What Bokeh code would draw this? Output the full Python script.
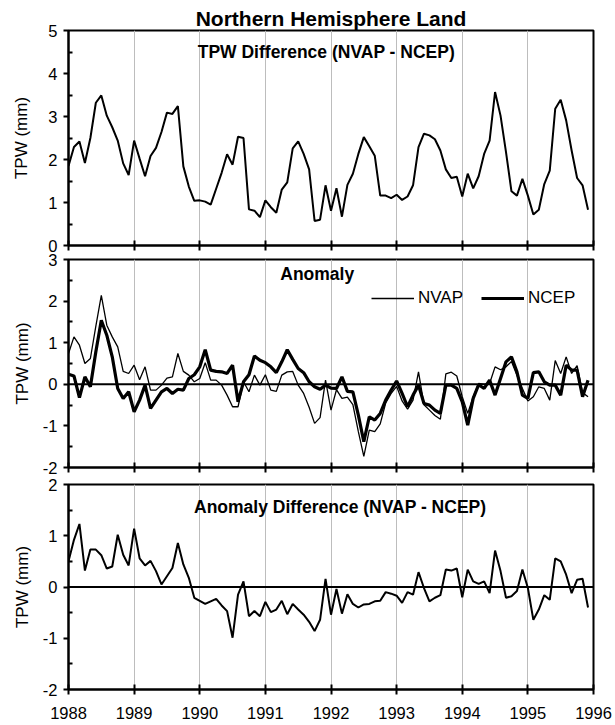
from bokeh.plotting import figure
from bokeh.layouts import column
from bokeh.models import Range1d, Span, Label, Legend, LegendItem, FixedTicker, Title
from bokeh.embed import file_html
from bokeh.resources import INLINE

FONT = "Liberation Sans"

years = [1988, 1989, 1990, 1991, 1992, 1993, 1994, 1995, 1996]
months = [1988 + m / 12 for m in range(96)]

tpw_diff = [
    1.85, 2.29, 2.42, 1.92, 2.50, 3.32, 3.49, 3.02, 2.75, 2.44, 1.91, 1.64,
    2.44, 2.02, 1.61, 2.08, 2.27, 2.64, 3.09, 3.06, 3.24, 1.84, 1.37, 1.04,
    1.05, 1.02, 0.95, 1.32, 1.69, 2.12, 1.88, 2.53, 2.50, 0.84, 0.81, 0.66,
    1.05, 0.89, 0.76, 1.30, 1.47, 2.26, 2.42, 2.13, 1.77, 0.57, 0.60, 1.40,
    0.81, 1.33, 0.67, 1.41, 1.67, 2.13, 2.52, 2.31, 2.09, 1.16, 1.16, 1.10,
    1.18, 1.06, 1.14, 1.40, 2.29, 2.60, 2.56, 2.47, 2.21, 1.77, 1.57, 1.60,
    1.14, 1.67, 1.33, 1.61, 2.13, 2.44, 3.57, 3.02, 2.17, 1.26, 1.16, 1.55,
    1.16, 0.72, 0.83, 1.43, 1.74, 3.18, 3.39, 2.91, 2.21, 1.57, 1.40, 0.83,
]

nvap_anom = [
    0.74, 1.14, 0.94, 0.50, 0.62, 1.40, 2.14, 1.42, 1.14, 0.90, 0.31, 0.26,
    0.46, 0.11, 0.42, -0.14, -0.14, -0.02, 0.15, 0.18, 0.74, 0.31, 0.22, 0.06,
    0.14, 0.52, 0.10, 0.10, -0.02, -0.26, -0.54, -0.54, 0.06, -0.18, 0.22, -0.02,
    0.23, -0.14, -0.17, 0.22, 0.30, 0.31, -0.02, -0.22, -0.55, -0.94, -0.80, 0.10,
    -0.62, -0.13, -0.34, -0.31, -0.49, -1.14, -1.73, -1.10, -1.14, -0.95, -0.45, -0.22,
    -0.05, -0.40, -0.60, -0.38, 0.30, -0.49, -0.62, -0.75, -0.84, 0.25, 0.29, 0.20,
    -0.30, -0.70, -0.30, 0.02, 0.00, 0.02, 0.42, 0.35, 0.42, 0.55, 0.22, -0.10,
    -0.40, -0.30, -0.06, -0.10, -0.38, 0.57, 0.26, 0.66, 0.26, 0.45, -0.20, -0.30,
]

ncep_anom = [
    0.24, 0.20, -0.32, 0.18, -0.06, 0.78, 1.54, 1.18, 0.66, -0.10, -0.34, -0.18,
    -0.66, -0.38, -0.02, -0.58, -0.38, -0.18, -0.10, -0.22, -0.12, -0.14, 0.14, 0.23,
    0.42, 0.83, 0.34, 0.31, 0.30, 0.26, 0.46, -0.42, 0.06, 0.23, 0.68, 0.58,
    0.52, 0.42, 0.28, 0.54, 0.83, 0.60, 0.38, 0.28, 0.06, -0.06, -0.12, -0.02,
    -0.09, -0.10, 0.18, -0.17, -0.18, -0.74, -1.38, -0.78, -0.86, -0.70, -0.38, -0.14,
    0.08, -0.22, -0.54, -0.26, -0.02, -0.46, -0.50, -0.62, -0.70, -0.02, -0.02, -0.10,
    -0.42, -0.98, -0.34, -0.01, -0.10, 0.10, -0.26, 0.14, 0.54, 0.66, 0.30, -0.26,
    -0.34, 0.28, 0.30, 0.06, -0.02, -0.02, -0.26, 0.46, 0.34, 0.34, -0.30, 0.10,
]

anom_diff = [
    0.50, 0.92, 1.23, 0.32, 0.73, 0.73, 0.62, 0.36, 0.40, 1.02, 0.63, 0.42,
    1.14, 0.56, 0.42, 0.51, 0.31, 0.05, 0.21, 0.37, 0.86, 0.44, 0.18, -0.21,
    -0.27, -0.33, -0.28, -0.23, -0.36, -0.47, -0.99, -0.15, 0.11, -0.57, -0.47, -0.57,
    -0.29, -0.49, -0.44, -0.27, -0.53, -0.33, -0.44, -0.54, -0.68, -0.86, -0.64, 0.16,
    -0.54, -0.04, -0.52, -0.14, -0.33, -0.40, -0.34, -0.33, -0.28, -0.27, -0.10, -0.13,
    -0.17, -0.31, -0.10, -0.15, 0.29, -0.02, -0.28, -0.21, -0.16, 0.34, 0.32, 0.36,
    -0.20, 0.34, 0.11, 0.06, 0.11, -0.12, 0.71, 0.31, -0.21, -0.18, -0.08, 0.34,
    -0.02, -0.64, -0.44, -0.16, -0.25, 0.56, 0.50, 0.24, -0.12, 0.14, 0.16, -0.40,
]

main_title = "Northern Hemisphere Land"
sub_titles = ["TPW Difference (NVAP - NCEP)", "Anomaly", "Anomaly Difference (NVAP - NCEP)"]
y_label = "TPW (mm)"


def make_panel(y0, y1, top, height, bottom, show_xlabels, label_standoff, overlap):
    p = figure(width=615, height=height, x_range=Range1d(1988, 1996),
               y_range=Range1d(y0, y1), output_backend="svg", toolbar_location=None,
               min_border_left=68, min_border_right=22, min_border_top=top,
               min_border_bottom=bottom, background_fill_color="white",
               border_fill_color="white")
    if overlap:
        p.margin = (-overlap, 0, 0, 0)
        p.border_fill_alpha = 0
    p.outline_line_color = "black"
    p.outline_line_width = 2
    # x axis
    p.xaxis.ticker = FixedTicker(ticks=years)
    p.xaxis.major_label_overrides = {y: str(y) for y in years}
    p.xaxis.axis_line_width = 2
    p.xaxis.major_tick_line_width = 2
    p.xaxis.major_tick_in = 5
    p.xaxis.major_tick_out = 5
    p.xaxis.minor_tick_line_color = None
    p.xaxis.major_label_standoff = 12
    p.xaxis.major_label_text_font = FONT
    if show_xlabels:
        p.xaxis.major_label_text_font_size = "16.5px"
        p.xaxis.major_label_text_color = "black"
    else:
        p.xaxis.major_label_text_font_size = "1px"
        p.xaxis.major_label_text_color = None
        p.xaxis.major_label_standoff = 0
    # y axis
    yt = list(range(int(y0), int(y1) + 1))
    minor = [v + 0.5 for v in yt[:-1]]
    p.yaxis.ticker = FixedTicker(ticks=yt, minor_ticks=minor)
    p.yaxis.major_label_overrides = {v: str(v) for v in yt}
    p.yaxis.axis_line_width = 2
    p.yaxis.major_tick_line_width = 2
    p.yaxis.minor_tick_line_width = 2
    p.yaxis.major_tick_in = 0
    p.yaxis.major_tick_out = 5
    p.yaxis.minor_tick_in = 4
    p.yaxis.minor_tick_out = 0
    p.yaxis.major_label_standoff = 6
    p.yaxis.major_label_text_font = FONT
    p.yaxis.major_label_text_font_size = "16.5px"
    p.yaxis.major_label_text_color = "black"
    p.yaxis.axis_label = y_label
    p.yaxis.axis_label_text_font = FONT
    p.yaxis.axis_label_text_font_size = "17px"
    p.yaxis.axis_label_text_font_style = "normal"
    p.yaxis.axis_label_text_color = "black"
    p.yaxis.axis_label_standoff = label_standoff
    # grid
    p.xgrid.ticker = FixedTicker(ticks=years[1:-1])
    p.xgrid.grid_line_color = "#bdbdbd"
    p.xgrid.grid_line_width = 1
    p.ygrid.grid_line_color = None
    return p


# panel 1: frame 30..245
p1 = make_panel(0, 5, 30, 262, 17, False, 14, 0)
p1.title = Title(text=main_title, align="center", text_font=FONT,
                 text_font_size="21px", text_font_style="bold", text_color="black",
                 standoff=2)
p1.line(months, tpw_diff, line_color="black", line_width=2)
p1.add_layout(Label(x=1991.93, y=4.49, text=sub_titles[0], text_align="center",
                    text_baseline="middle", text_font=FONT, text_font_size="17.5px",
                    text_font_style="bold", text_color="black"))

# panel 2: starts at 242, frame 259..467
p2 = make_panel(-2, 3, 17, 243, 18, False, 8, 20)
p2.add_layout(Span(location=0, dimension="width", line_color="black", line_width=2))
r_nvap = p2.line(months, nvap_anom, line_color="black", line_width=1.3)
r_ncep = p2.line(months, ncep_anom, line_color="black", line_width=3.2)
p2.add_layout(Label(x=1991.79, y=2.66, text=sub_titles[1], text_align="center",
                    text_baseline="middle", text_font=FONT, text_font_size="17.5px",
                    text_font_style="bold", text_color="black"))
legend = Legend(items=[LegendItem(label="NVAP", renderers=[r_nvap]),
                       LegendItem(label="NCEP", renderers=[r_ncep])],
                orientation="horizontal", location=(303, 159), glyph_width=43,
                glyph_height=20, label_standoff=4, spacing=18, padding=0, margin=0,
                border_line_alpha=0, background_fill_alpha=0,
                label_text_font=FONT, label_text_font_size="17px",
                label_text_color="black")
p2.add_layout(legend)

# panel 3: starts at 465, frame 484..689
p3 = make_panel(-2, 2, 19, 260, 36, True, 8, 20)
p3.add_layout(Span(location=0, dimension="width", line_color="black", line_width=2))
p3.line(months, anom_diff, line_color="black", line_width=2)
p3.add_layout(Label(x=1992.14, y=1.57, text=sub_titles[2], text_align="center",
                    text_baseline="middle", text_font=FONT, text_font_size="17.5px",
                    text_font_style="bold", text_color="black"))

layout = column(p1, p2, p3, spacing=0)
open("out.html", "w").write(file_html(layout, INLINE))
